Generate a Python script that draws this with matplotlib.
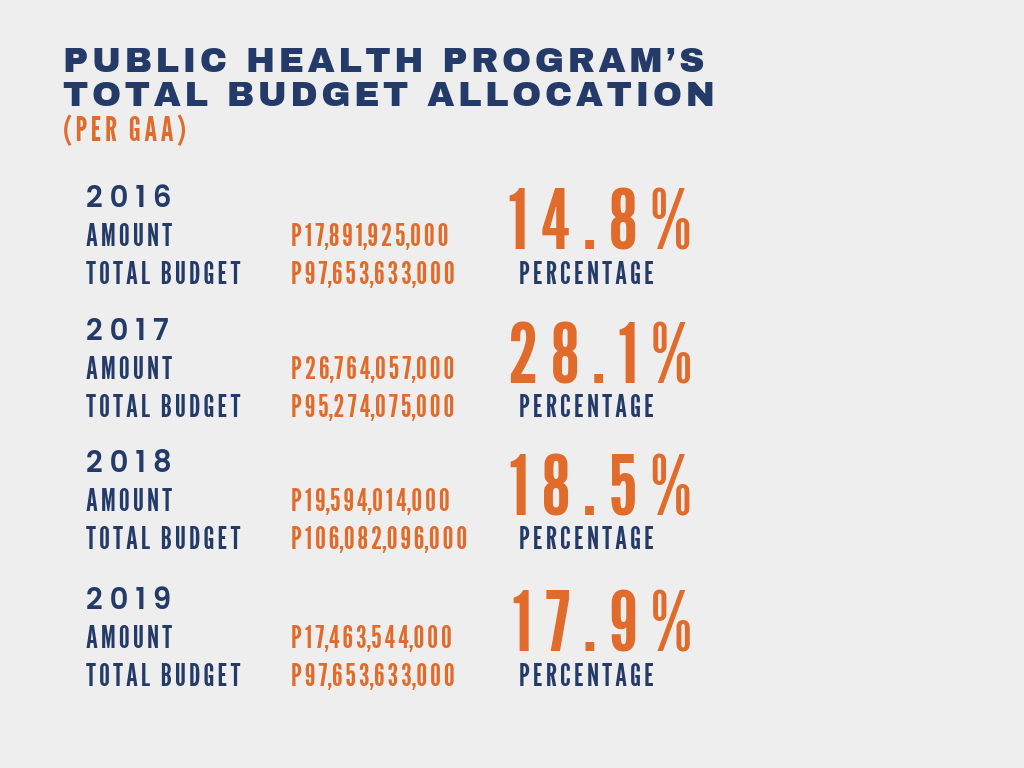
import matplotlib
matplotlib.use("Agg")
import matplotlib.pyplot as plt

years = ["2016", "2017", "2018", "2019"]
amounts = ["P17,891,925,000", "P26,764,057,000", "P19,594,014,000", "P17,463,544,000"]
totals = ["P97,653,633,000", "P95,274,075,000", "P106,082,096,000", "P97,653,633,000"]
shares = ["14.8%", "28.1%", "18.5%", "17.9%"]

NAVY = "#243b69"
ORANGE = "#e06b2b"
BG = "#eeeeee"

HAIR = "\u200a"

# baseline of the year line for each block (pixels from top)
block_top = [207, 340, 472, 609]


def spaced(s, gap=HAIR, skip=""):
    # fake letter spacing: put a narrow space between letters,
    # but not next to characters listed in skip
    out = s[0]
    for a, b in zip(s, s[1:]):
        if a not in skip and b not in skip:
            out += gap
        out += b
    return out


fig = plt.figure(figsize=(10.24, 7.68), dpi=100, facecolor=BG)
ax = fig.add_axes([0, 0, 1, 1])
ax.set_xlim(0, 1024)
ax.set_ylim(768, 0)
ax.axis("off")
ax.set_facecolor(BG)

title_font = ["Archivo Black", "DejaVu Sans"]
cond_font = ["League Gothic", "DejaVu Sans"]
year_font = ["Poppins", "DejaVu Sans"]

ax.text(63, 72, spaced("PUBLIC HEALTH PROGRAM’S"), family=title_font,
        fontsize=25.3, color=NAVY, va="baseline")
ax.text(63, 106, spaced("TOTAL BUDGET ALLOCATION"), family=title_font,
        fontsize=25.3, color=NAVY, va="baseline")
ax.text(63, 141, spaced("(PER GAA)"), family=cond_font,
        fontsize=24, color=ORANGE, va="baseline")

for yr, amt, tot, pct, y0 in zip(years, amounts, totals, shares, block_top):
    ax.text(86, y0, spaced(yr, " "), family=year_font, fontweight="semibold",
            fontsize=21, color=NAVY, va="baseline")
    ax.text(86, y0 + 39, spaced("AMOUNT"), family=cond_font,
            fontsize=22, color=NAVY, va="baseline")
    ax.text(86, y0 + 77, spaced("TOTAL BUDGET"), family=cond_font,
            fontsize=22, color=NAVY, va="baseline")
    ax.text(291, y0 + 39, spaced(amt, skip=","), family=cond_font,
            fontsize=22, color=ORANGE, va="baseline")
    ax.text(291, y0 + 77, spaced(tot, skip=","), family=cond_font,
            fontsize=22, color=ORANGE, va="baseline")
    ax.text(692, y0 + 43, spaced(pct, " "), family=cond_font,
            fontsize=60, color=ORANGE, va="baseline", ha="right")
    ax.text(519, y0 + 77, spaced("PERCENTAGE"), family=cond_font,
            fontsize=22, color=NAVY, va="baseline")

fig.savefig("out.png", facecolor=BG)
